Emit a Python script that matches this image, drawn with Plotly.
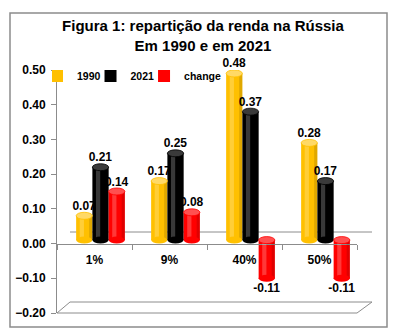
import plotly.graph_objects as go

# ---- data ----
categories = ["1%", "9%", "40%", "50%"]
series_names = ["1990", "2021", "change"]
v1990 = [0.07, 0.17, 0.48, 0.28]
v2021 = [0.21, 0.25, 0.37, 0.17]
vchange = [0.14, 0.08, -0.11, -0.11]
y_ticks = [-0.2, -0.1, 0.0, 0.1, 0.2, 0.3, 0.4, 0.5]

# ---- style ----
colors = ["#FFC000", "#000000", "#FF0000"]
cap_colors = ["#FFD966", "#3A3A3A", "#FF5050"]
FONT = "Liberation Sans, Arial, sans-serif"
GRAY = "#8C8C8C"

# plot-area pixel geometry
W, H = 396, 335
L, R, T, B = 57, 357, 70, 313
PW, PH = R - L, B - T
def px(x):
    return (x - L) / PW
def py(y):
    return (B - y) / PH

YMIN, YMAX = -0.2, 0.5
DX, DY = 0.08, 0.01      # 3-D depth offset of the bars (axis units)
BARGAP = 0.35

fig = go.Figure()

# invisible trace that carries the front category axis
fig.add_trace(go.Scatter(x=categories, y=[0] * len(categories), mode="none",
                         showlegend=False, hoverinfo="skip", xaxis="x", yaxis="y"))

all_vals = [v1990, v2021, vchange]
for name, vals, col in zip(series_names, all_vals, colors):
    fig.add_trace(go.Bar(
        x=categories, y=vals, name=name, marker=dict(color=col, line=dict(width=0)),
        text=[f"{v:.2f}" for v in vals], textposition="outside", constraintext="none",
        textfont=dict(family=FONT, size=12, color="black", weight="bold"),
        cliponaxis=False, xaxis="x2", yaxis="y2",
    ))

# cylinder shading, caps and rounded bottoms, placed from data
shapes = []
ntr = len(all_vals)
bw = (1 - BARGAP) / ntr
for ti, (vals, col, ccol) in enumerate(zip(all_vals, colors, cap_colors)):
    for ci, v in enumerate(vals):
        c = ci - (1 - BARGAP) / 2 + (ti + 0.5) * bw
        top, bot = max(v, 0), min(v, 0)
        shapes.append(dict(type="rect", xref="x2", yref="y2",
                           x0=c - bw * 0.28, x1=c - bw * 0.02, y0=bot, y1=top,
                           fillcolor="rgba(255,255,255,0.22)", line=dict(width=0), layer="above"))
        shapes.append(dict(type="rect", xref="x2", yref="y2",
                           x0=c + bw * 0.30, x1=c + bw * 0.5, y0=bot, y1=top,
                           fillcolor="rgba(0,0,0,0.12)", line=dict(width=0), layer="above"))
        shapes.append(dict(type="circle", xref="x2", yref="y2", ysizemode="pixel",
                           yanchor=bot, y0=-3.5, y1=3.5, x0=c - bw / 2, x1=c + bw / 2,
                           fillcolor=col, line=dict(width=0), layer="above"))
        shapes.append(dict(type="circle", xref="x2", yref="y2", ysizemode="pixel",
                           yanchor=top, y0=-3.5, y1=3.5, x0=c - bw / 2, x1=c + bw / 2,
                           fillcolor=ccol, line=dict(width=0.8, color=col), layer="above"))

# 3-D back zero line and floor
shapes.append(dict(type="line", xref="paper", yref="paper",
                   x0=px(70), x1=px(372), y0=py(232), y1=py(232),
                   line=dict(color=GRAY, width=1), layer="below"))
shapes.append(dict(type="path", xref="paper", yref="paper",
                   path=f"M {px(57)} {py(313)} L {px(357)} {py(313)} L {px(372)} {py(302)} "
                        f"L {px(70)} {py(302)} Z",
                   line=dict(color=GRAY, width=1), fillcolor="rgba(0,0,0,0)", layer="below"))
# chart border
shapes.append(dict(type="rect", xref="paper", yref="paper",
                   x0=px(10), x1=px(387), y0=py(327), y1=py(13),
                   line=dict(color=GRAY, width=1.5), layer="below"))

fig.update_layout(
    width=W, height=H,
    margin=dict(l=L, r=W - R, t=T, b=H - B, pad=0),
    paper_bgcolor="white", plot_bgcolor="white",
    barmode="group", bargap=BARGAP, bargroupgap=0,
    font=dict(family=FONT, color="black"),
    title=dict(text="<b>Figura 1: repartição da renda na Rússia<br>Em 1990 e em 2021</b>",
               x=203 / W, xanchor="center", yref="container", y=1 - 31 / H, yanchor="middle",
               font=dict(family=FONT, size=15, color="black")),
    legend=dict(orientation="h", x=px(52), xanchor="left", y=py(76), yanchor="middle",
                font=dict(family=FONT, size=10.5, weight="bold"),
                bgcolor="rgba(0,0,0,0)", itemwidth=30, indentation=-15),
    xaxis=dict(type="category", categoryarray=categories, range=[-0.5, 3.5],
               anchor="free", position=(0 - YMIN) / (YMAX - YMIN),
               showline=True, linecolor=GRAY, linewidth=1,
               ticks="outside", tickson="boundaries", ticklen=5, tickcolor=GRAY,
               showgrid=False, zeroline=False, ticklabelstandoff=5,
               tickfont=dict(family=FONT, size=12, weight="bold")),
    yaxis=dict(range=[YMIN, YMAX], tickvals=y_ticks, tickformat=".2f",
               showline=True, linecolor=GRAY, linewidth=1,
               ticks="outside", ticklen=5, tickcolor=GRAY, ticklabelstandoff=3,
               showgrid=False, zeroline=False,
               tickfont=dict(family=FONT, size=12, weight="bold")),
    xaxis2=dict(type="category", categoryarray=categories, range=[-0.5 - DX, 3.5 - DX],
                overlaying="x", visible=False),
    yaxis2=dict(range=[YMIN - DY, YMAX - DY], overlaying="y", visible=False),
    shapes=shapes,
)

fig.write_html("out.html")
